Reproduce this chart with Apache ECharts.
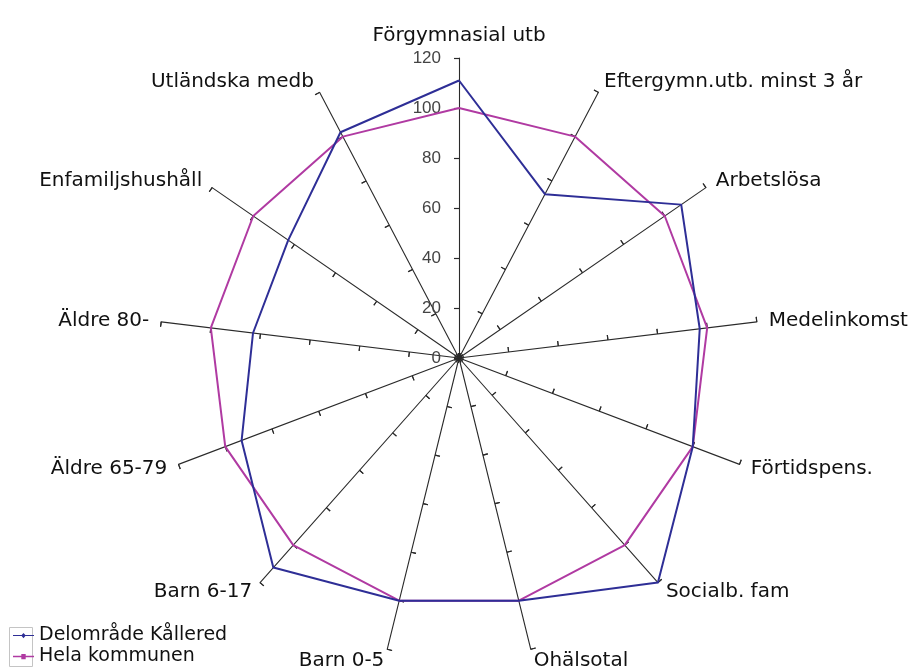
<!DOCTYPE html>
<html>
<head>
<meta charset="utf-8">
<script src="https://cdn.jsdelivr.net/npm/echarts@6/dist/echarts.min.js"></script>
<style>
  html, body { margin: 0; padding: 0; background: #fff; }
  #chart { width: 920px; height: 671px; }
</style>
</head>
<body>
<div id="chart"></div>
<script>
  // axes in clockwise order starting at the top
  var axisNames = ['Förgymnasial utb', 'Eftergymn.utb. minst 3 år', 'Arbetslösa', 'Medelinkomst',
    'Förtidspens.', 'Socialb. fam', 'Ohälsotal', 'Barn 0-5', 'Barn 6-17', 'Äldre 65-79',
    'Äldre 80-', 'Enfamiljshushåll', 'Utländska medb']
  var kallered = [111, 74, 108, 97, 100, 120, 100, 100, 112, 93, 83, 83, 102]
  var hela = [100, 100, 100, 100, 100, 100, 100, 100, 100, 100, 100, 100, 100]
  var tickLabels = [0, 20, 40, 60, 80, 100, 120]

  var seriesNames = ['Delområde Kållered', 'Hela kommunen']
  var colors = ['#2e2e96', '#b03aa2']

  // echarts radar runs counter-clockwise, so reorder: keep first, reverse the rest
  function cw (arr) {
    return [arr[0]].concat(arr.slice(1).reverse())
  }

  var maxVal = tickLabels[tickLabels.length - 1]
  var indicator = cw(axisNames).map(function (n) { return { name: n, max: maxVal, min: 0 } })
  var center = [459, 358]
  var radius = 300
  var font = 'DejaVu Sans, Liberation Sans, sans-serif'
  var numFont = 'Liberation Sans, Arial, sans-serif'

  var baseRadar = {
    center: center,
    radius: radius,
    startAngle: 90,
    splitNumber: tickLabels.length - 1,
    indicator: indicator,
    splitLine: { show: false },
    splitArea: { show: false },
    axisLabel: { show: false }
  }

  var option = {
    animation: false,
    backgroundColor: '#fff',
    color: colors,
    legend: {
      orient: 'vertical',
      left: 8,
      top: 621,
      itemGap: 2,
      itemWidth: 21,
      itemHeight: 10,
      textStyle: { fontFamily: font, fontSize: 19, color: '#111' },
      data: [
        { name: seriesNames[0], icon: 'path://M0,4.4h24v1.2h-24z M12,2l2.6,3l-2.6,3l-2.6,-3z' },
        { name: seriesNames[1], icon: 'path://M0,4.2h24v1.6h-24z M9.5,2h5v6h-5z' }
      ]
    },
    graphic: [{
      type: 'rect',
      left: 7,
      top: 625,
      shape: { width: 23, height: 39 },
      style: { fill: 'none', stroke: '#c4c4c4', lineWidth: 1 },
      z: -1
    }],
    radar: [
      Object.assign({}, baseRadar, {
        nameGap: 12,
        axisName: { color: '#111', fontFamily: font, fontSize: 20 },
        axisLine: { lineStyle: { color: '#2a2a2a', width: 1.1 } },
        axisTick: { show: true, length: 5, lineStyle: { color: '#2a2a2a', width: 1.1 } }
      }),
      Object.assign({}, baseRadar, {
        axisName: { show: false },
        axisLine: { show: false },
        axisTick: { show: true, inside: true, length: 5, lineStyle: { color: '#2a2a2a', width: 1.1 } }
      })
    ],
    polar: { center: center, radius: radius },
    angleAxis: { show: false, startAngle: 90, min: 0, max: 360 },
    radiusAxis: {
      min: 0,
      max: maxVal,
      interval: 20,
      axisLine: { show: false },
      axisTick: { show: false },
      splitLine: { show: false },
      axisLabel: {
        show: true,
        color: '#444',
        fontFamily: numFont,
        fontSize: 17,
        margin: 18,
        formatter: function (v) { return tickLabels.indexOf(v) >= 0 ? String(v) : '' }
      }
    },
    series: [{
      type: 'radar',
      radarIndex: 0,
      symbol: 'none',
      data: [
        { name: seriesNames[1], value: cw(hela), lineStyle: { color: colors[1], width: 2 }, itemStyle: { color: colors[1] } },
        { name: seriesNames[0], value: cw(kallered), lineStyle: { color: colors[0], width: 2 }, itemStyle: { color: colors[0] } }
      ]
    }]
  }

  var chart = echarts.init(document.getElementById('chart'))
  chart.setOption(option)
</script>
</body>
</html>
